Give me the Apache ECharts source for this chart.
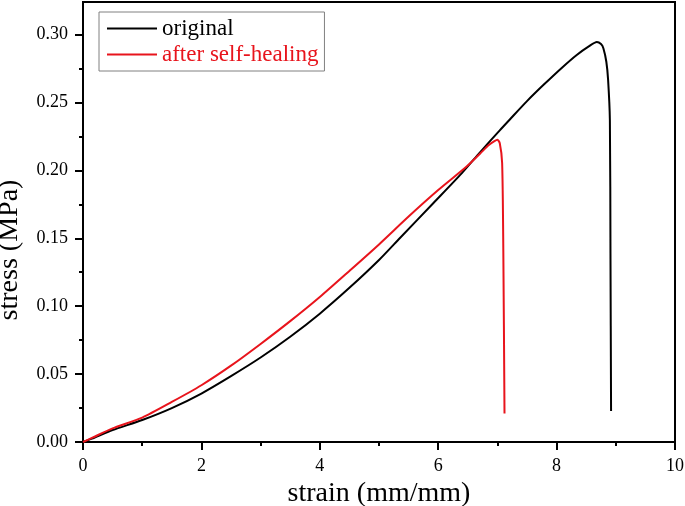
<!DOCTYPE html>
<html>
<head>
<meta charset="utf-8">
<script src="https://cdn.jsdelivr.net/npm/echarts@6/dist/echarts.min.js"></script>
<style>
html,body{margin:0;padding:0;background:#fff;}
#chart{width:685px;height:506px;}
</style>
</head>
<body>
<div id="chart"></div>
<script>
// strain (mm/mm) and stress (MPa)
const originalStrain = [0, 0.15, 0.5, 1.0, 1.5, 2.0, 2.5, 3.0, 3.5, 4.0, 4.5, 5.0, 5.35, 5.92, 6.4, 6.71, 7.04, 7.21, 7.5, 7.78, 8.1, 8.34, 8.55, 8.68, 8.75, 8.79, 8.84, 8.87, 8.90, 8.91, 8.92];
const originalStress = [0, 0.0025, 0.0088, 0.0162, 0.0250, 0.0357, 0.0485, 0.0622, 0.0775, 0.0945, 0.1135, 0.1340, 0.1500, 0.1760, 0.1980, 0.2135, 0.2295, 0.2375, 0.2510, 0.2630, 0.2760, 0.2850, 0.2915, 0.2945, 0.2930, 0.2900, 0.2800, 0.2667, 0.2370, 0.1390, 0.0229];
const healedStrain = [0, 0.15, 0.49, 1.0, 1.5, 2.0, 2.5, 3.0, 3.5, 4.0, 4.5, 5.0, 5.5, 6.0, 6.48, 6.71, 6.85, 6.95, 7.0, 7.04, 7.08, 7.10, 7.12];
const healedStress = [0, 0.003, 0.0098, 0.018, 0.0295, 0.0418, 0.0562, 0.0722, 0.0890, 0.1068, 0.1260, 0.1455, 0.1660, 0.1855, 0.2028, 0.2125, 0.2185, 0.2215, 0.2225, 0.2200, 0.2055, 0.1410, 0.0210];
const yTickLabels = [0, 0.05, 0.10, 0.15, 0.20, 0.25, 0.30];
const yMinorTicks = [0.025, 0.075, 0.125, 0.175, 0.225, 0.275];

const FONT = '"Liberation Serif", "Times New Roman", serif';
const RED = '#e8141c';

function pairs(xs, ys){ return xs.map((x,i)=>[x, ys[i]]); }

const chart = echarts.init(document.getElementById('chart'), null, {renderer:'canvas'});
chart.setOption({
  animation:false,
  backgroundColor:'#fff',
  grid:{left:83, right:10, top:2, bottom:64, containLabel:false, outerBoundsMode:'none',
    show:true, borderColor:'#000', borderWidth:2, backgroundColor:'transparent'},
  legend:{
    orient:'vertical', left:99, top:12,
    padding:[5,6,5,8], itemGap:3,
    backgroundColor:'#fff', borderColor:'#808080', borderWidth:1, borderRadius:0,
    icon:'rect', itemWidth:50, itemHeight:2,
    textStyle:{fontFamily:FONT, fontSize:23, color:'#000'},
    data:[
      {name:'original', textStyle:{color:'#000'}},
      {name:'after self-healing', textStyle:{color:RED}}
    ]
  },
  xAxis:{
    type:'value', min:0, max:10, interval:2,
    name:'strain (mm/mm)', nameLocation:'middle', nameGap:38,
    nameTextStyle:{fontFamily:FONT, fontSize:28, color:'#000'},
    axisLine:{show:true, onZero:false, lineStyle:{color:'#000', width:2}},
    axisTick:{show:true, length:8, lineStyle:{color:'#000', width:2}},
    minorTick:{show:true, splitNumber:2, length:4, lineStyle:{color:'#000', width:2}},
    axisLabel:{fontFamily:FONT, fontSize:18, color:'#000', margin:15},
    splitLine:{show:false}, minorSplitLine:{show:false}
  },
  yAxis:[{
    type:'value', min:0, max:0.324,
    name:'stress (MPa)', nameLocation:'middle', nameGap:59,
    nameTextStyle:{fontFamily:FONT, fontSize:28, color:'#000', padding:[0,56,0,0]},
    axisLine:{show:true, onZero:false, lineStyle:{color:'#000', width:2}},
    axisTick:{show:true, length:8, customValues:yTickLabels, lineStyle:{color:'#000', width:2}},
    axisLabel:{fontFamily:FONT, fontSize:18, color:'#000', margin:15, customValues:yTickLabels,
      formatter:v=>v.toFixed(2)},
    splitLine:{show:false}
  },{
    type:'value', min:0, max:0.324, position:'left',
    axisLine:{show:false},
    axisTick:{show:true, length:4, customValues:yMinorTicks, lineStyle:{color:'#000', width:2}},
    axisLabel:{show:false},
    splitLine:{show:false}
  }],
  series:[
    {name:'original', type:'line', data:pairs(originalStrain, originalStress), smooth:0.25,
      showSymbol:false, symbol:'none', lineStyle:{color:'#000', width:2}, itemStyle:{color:'#000'}},
    {name:'after self-healing', type:'line', data:pairs(healedStrain, healedStress), smooth:0.25,
      showSymbol:false, symbol:'none', lineStyle:{color:RED, width:2}, itemStyle:{color:RED}}
  ]
});
</script>
</body>
</html>
